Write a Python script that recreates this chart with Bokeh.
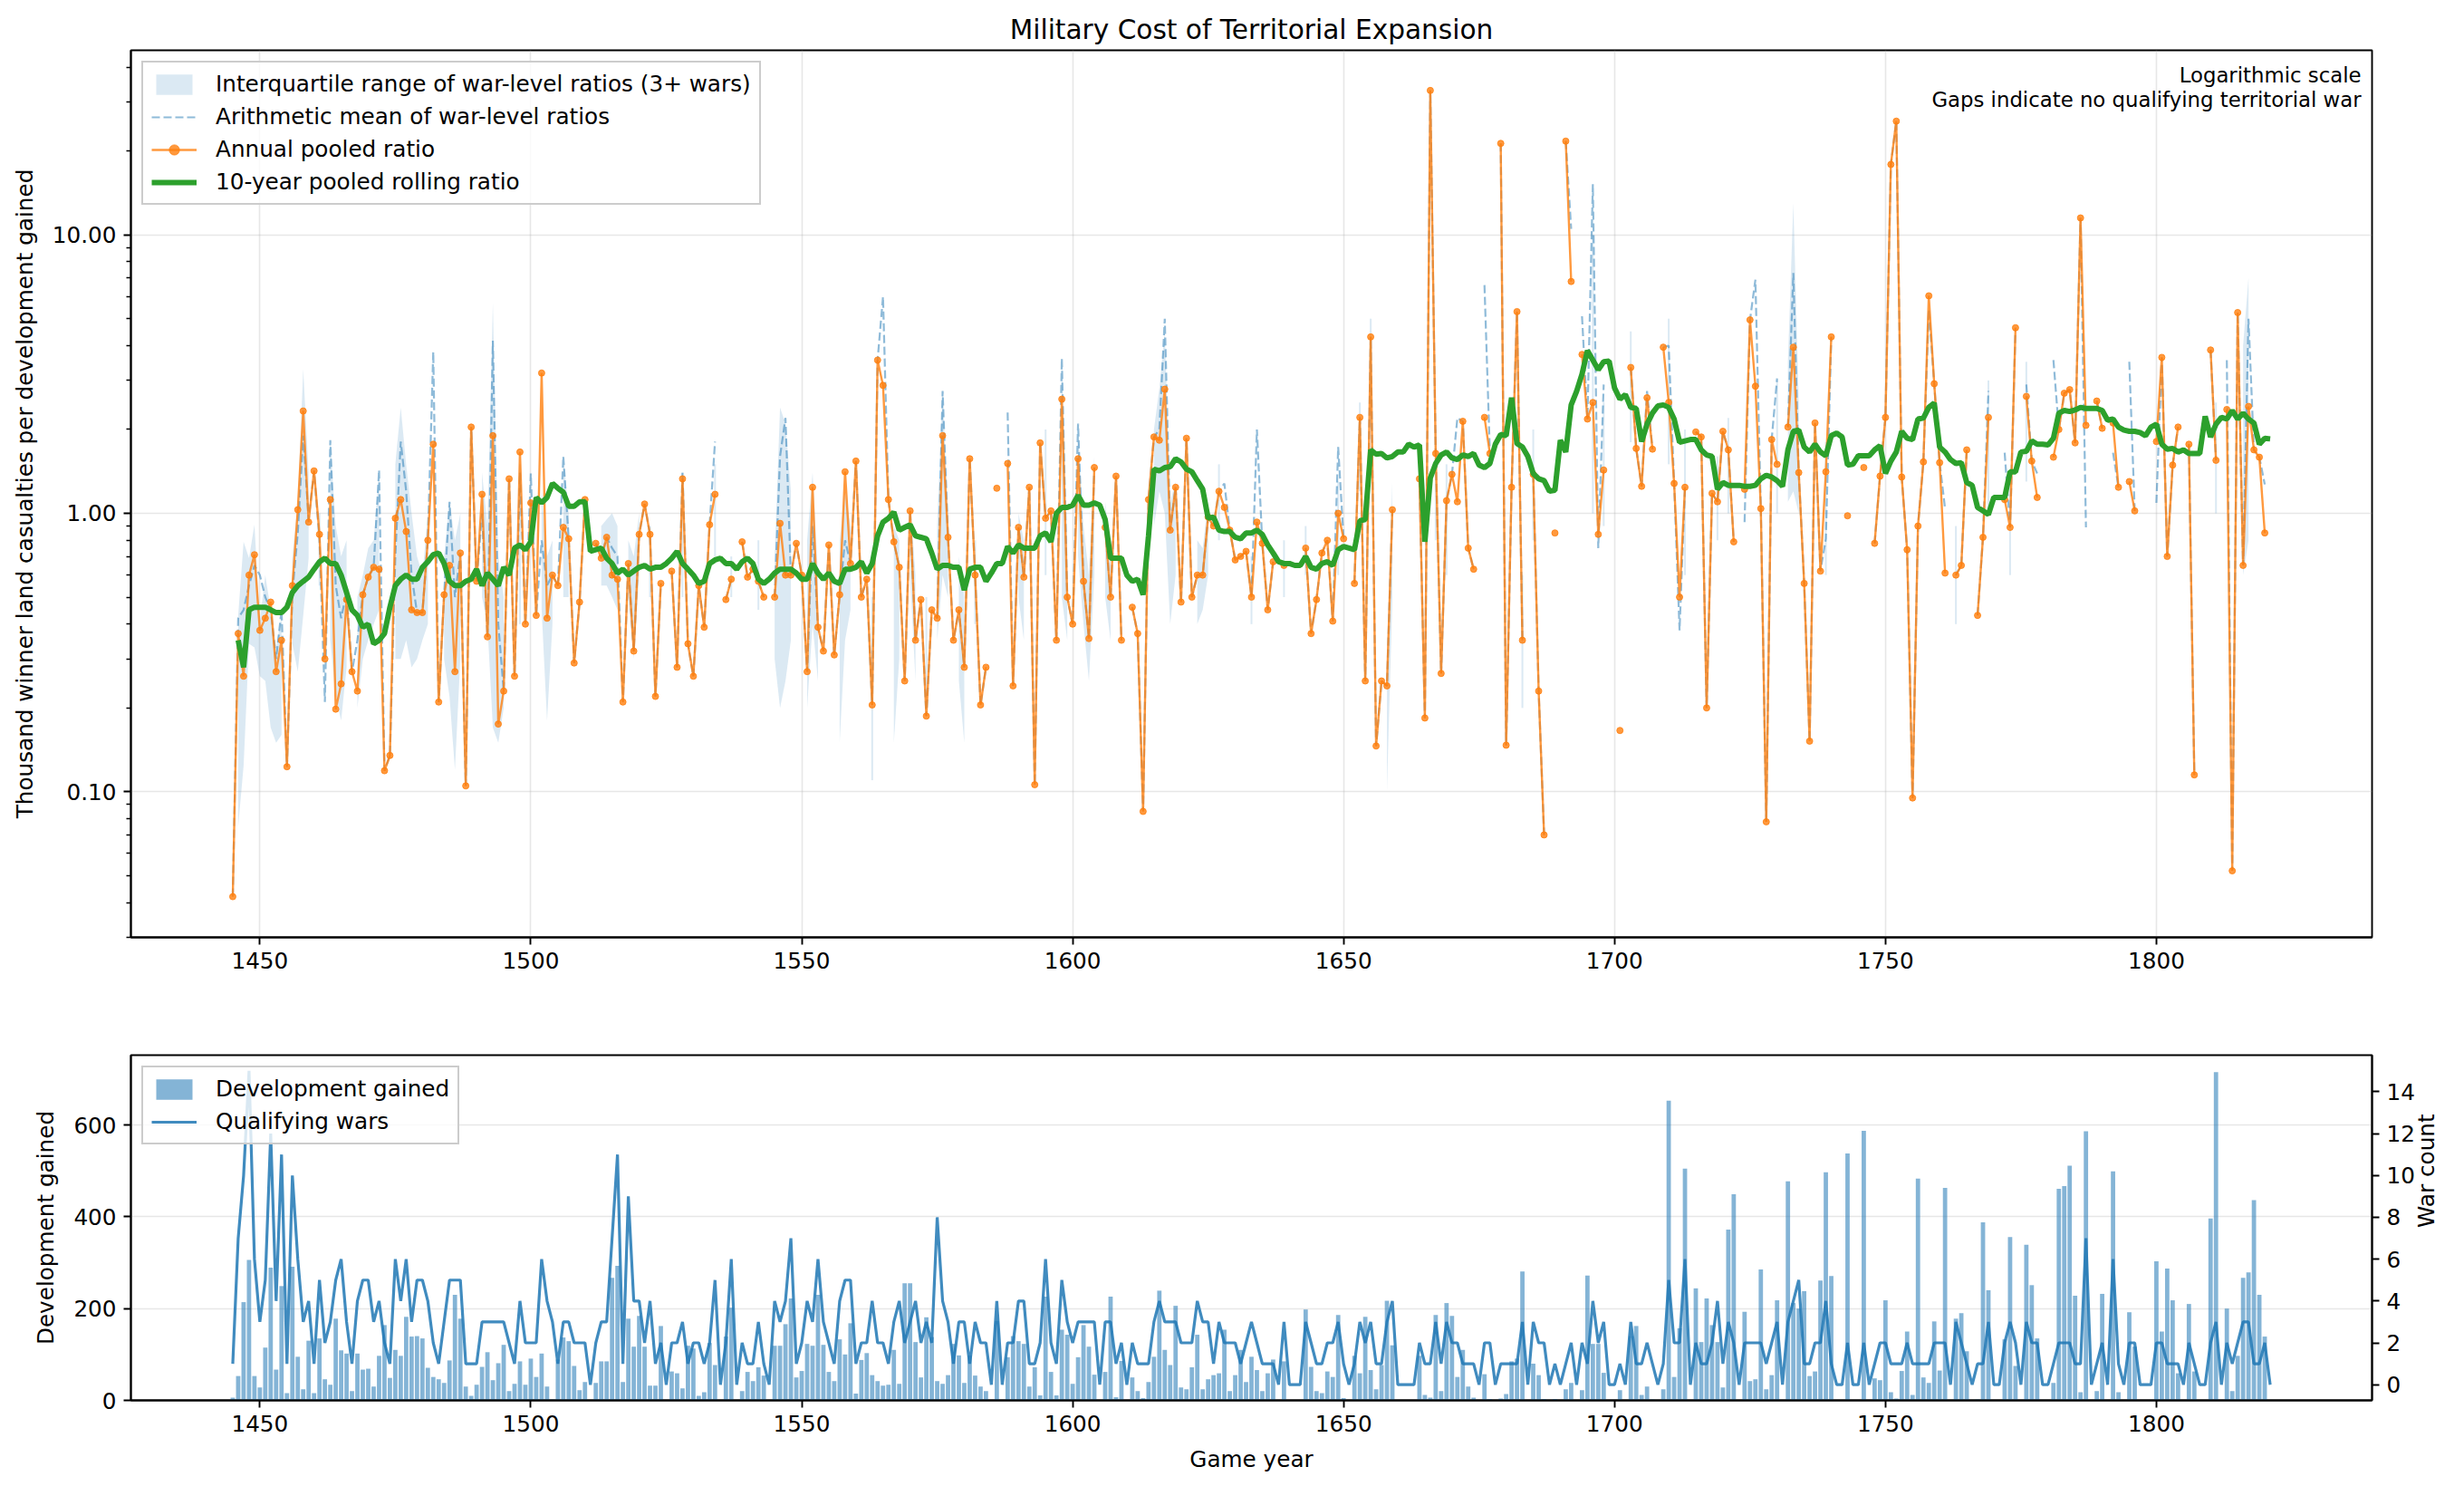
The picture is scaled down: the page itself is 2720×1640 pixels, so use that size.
import math
from bokeh.plotting import figure
from bokeh.models import (Range1d, LinearAxis, FixedTicker, PrintfTickFormatter,
                          Legend, LegendItem, Label)
from bokeh.layouts import column
from bokeh.embed import file_html
from bokeh.resources import INLINE

# ---------------- data ----------------
YEARS = list(range(1445, 1822))

ANNUAL = [
    0.042, 0.37, 0.26, 0.60, 0.71, 0.38, 0.42, 0.48, 0.27, 0.35,      # 1445
    0.123, 0.55, 1.03, 2.33, 0.93, 1.42, 0.84, 0.30, 1.12, 0.198,     # 1455
    0.244, 0.49, 0.27, 0.23, 0.51, 0.59, 0.64, 0.63, 0.119, 0.135,    # 1465
    0.96, 1.12, 0.86, 0.45, 0.44, 0.44, 0.80, 1.77, 0.21, 0.51,       # 1475
    0.65, 0.27, 0.72, 0.105, 2.04, 0.57, 1.17, 0.36, 1.90, 0.175,     # 1485
    0.23, 1.33, 0.26, 1.66, 0.40, 1.09, 0.43, 3.19, 0.42, 0.60,       # 1495
    0.55, 0.89, 0.81, 0.29, 0.48, 1.12, None, 0.78, 0.69, 0.82,       # 1505
    0.60, 0.58, 0.21, 0.66, 0.32, 0.84, 1.08, 0.84, 0.22, 0.56,       # 1515
    None, 0.62, 0.28, 1.33, 0.34, 0.26, 0.55, 0.39, 0.91, 1.17,       # 1525
    None, 0.49, 0.58, None, 0.79, 0.59, 0.63, 0.57, 0.50, None,       # 1535
    0.50, 0.92, 0.60, 0.60, 0.78, 0.60, 0.27, 1.24, 0.39, 0.32,       # 1545
    0.77, 0.31, 0.51, 1.41, 0.66, 1.54, 0.50, 0.58, 0.205, 3.55,      # 1555
    2.88, 1.12, 0.79, 0.64, 0.25, 1.02, 0.35, 0.49, 0.187, 0.45,      # 1565
    0.42, 1.90, 0.82, 0.35, 0.45, 0.28, 1.57, 0.60, 0.205, 0.28,      # 1575
    None, 1.23, None, 1.51, 0.24, 0.89, 0.59, 1.24, 0.106, 1.79,      # 1585
    0.96, 1.02, 0.35, 2.57, 0.50, 0.40, 1.57, 0.57, 0.355, 1.46,      # 1595
    None, 0.89, 0.50, 1.36, 0.35, None, 0.46, 0.37, 0.085, 1.12,      # 1605
    1.88, 1.83, 2.79, 0.87, 1.24, 0.48, 1.86, 0.50, 0.60, 0.60,       # 1615
    0.97, 0.90, 1.20, 1.05, 0.87, 0.68, 0.70, 0.73, 0.50, 0.93,       # 1625
    0.78, 0.45, 0.67, None, 0.65, None, None, None, 0.75, 0.37,       # 1635
    0.49, 0.72, 0.80, 0.41, 1.00, 0.81, None, 0.56, 2.21, 0.25,       # 1645
    4.3, 0.146, 0.25, 0.24, 1.03, None, None, None, None, 1.33,       # 1655
    0.184, 33.0, 1.64, 0.266, 1.11, 1.38, 1.10, 2.14, 0.75, 0.63,     # 1665
    None, 2.21, 1.64, None, 21.3, 0.147, 1.24, 5.3, 0.35, None,       # 1675
    1.38, 0.23, 0.070, None, 0.85, None, 21.7, 6.8, None, 3.72,       # 1685
    2.18, 2.5, 0.84, 1.43, None, None, 0.166, None, 3.34, 1.71,       # 1695
    1.25, 2.6, 1.7, None, 3.95, 2.5, 1.28, 0.50, 1.24, None,          # 1705
    1.96, 1.88, 0.20, 1.18, 1.1, 1.97, 1.69, 0.79, None, 1.22,        # 1715
    4.95, 2.86, 1.04, 0.078, 1.84, 1.5, None, 2.04, 3.95, 1.40,       # 1725
    0.56, 0.152, 2.11, 0.62, 1.41, 4.3, None, None, 0.98, None,       # 1735
    None, 1.46, None, 0.78, 1.36, 2.21, 17.9, 25.6, 1.35, 0.74,       # 1745
    0.095, 0.9, 1.53, 6.04, 2.92, 1.52, 0.61, None, 0.60, 0.65,       # 1755
    1.69, None, 0.43, 0.82, 2.21, None, None, 1.12, 0.89, 4.64,       # 1765
    None, 2.63, 1.54, 1.14, None, None, 1.59, 2.0, 2.70, 2.78,        # 1775
    1.79, 11.5, 2.07, None, 2.53, 2.02, None, 2.11, 1.24, None,       # 1785
    1.3, 1.02, None, None, None, 1.81, 3.63, 0.70, 1.49, 2.04,        # 1795
    None, 1.77, 0.115, None, None, 3.86, 1.55, None, 2.36, 0.052,     # 1805
    5.26, 0.65, 2.42, 1.69, 1.59, 0.85, None,                         # 1815
]

ROLLING = [
    None, 0.35, 0.28, 0.45, 0.46, 0.46, 0.46, 0.45, 0.44, 0.44,      # 1445
    0.46, 0.52, 0.55, 0.57, 0.59, 0.63, 0.67, 0.69, 0.66, 0.66,      # 1455
    0.60, 0.52, 0.45, 0.43, 0.39, 0.40, 0.34, 0.35, 0.37, 0.46,      # 1465
    0.55, 0.58, 0.60, 0.58, 0.58, 0.64, 0.67, 0.71, 0.72, 0.66,      # 1475
    0.57, 0.55, 0.55, 0.57, 0.58, 0.63, 0.55, 0.61, 0.58, 0.55,      # 1485
    0.64, 0.60, 0.75, 0.77, 0.74, 0.79, 1.14, 1.09, 1.14, 1.28,      # 1495
    1.23, 1.19, 1.06, 1.06, 1.10, 1.10, 0.73, 0.74, 0.75, 0.69,      # 1505
    0.66, 0.61, 0.63, 0.60, 0.62, 0.64, 0.65, 0.63, 0.64, 0.64,      # 1515
    0.66, 0.69, 0.73, 0.66, 0.63, 0.60, 0.56, 0.57, 0.66, 0.68,      # 1525
    0.69, 0.66, 0.66, 0.63, 0.67, 0.69, 0.66, 0.58, 0.56, 0.58,      # 1535
    0.61, 0.63, 0.63, 0.63, 0.61, 0.58, 0.58, 0.66, 0.61, 0.58,      # 1545
    0.61, 0.57, 0.56, 0.63, 0.63, 0.64, 0.67, 0.61, 0.66, 0.83,      # 1555
    0.93, 0.96, 1.01, 0.87, 0.89, 0.91, 0.83, 0.82, 0.81, 0.72,      # 1565
    0.63, 0.65, 0.65, 0.64, 0.64, 0.53, 0.63, 0.64, 0.64, 0.57,      # 1575
    0.61, 0.66, 0.66, 0.76, 0.72, 0.77, 0.75, 0.75, 0.75, 0.83,      # 1585
    0.85, 0.79, 1.00, 1.05, 1.05, 1.07, 1.16, 1.07, 1.07, 1.09,      # 1595
    1.07, 0.95, 0.69, 0.69, 0.69, 0.60, 0.57, 0.58, 0.51, 0.83,      # 1605
    1.44, 1.42, 1.46, 1.47, 1.57, 1.53, 1.44, 1.41, 1.31, 1.22,      # 1615
    0.96, 0.97, 0.87, 0.86, 0.86, 0.82, 0.81, 0.85, 0.85, 0.87,      # 1625
    0.84, 0.77, 0.72, 0.67, 0.66, 0.66, 0.65, 0.65, 0.70, 0.64,      # 1635
    0.63, 0.66, 0.67, 0.65, 0.74, 0.76, 0.75, 0.74, 0.94, 0.95,      # 1645
    1.69, 1.63, 1.64, 1.58, 1.60, 1.66, 1.66, 1.77, 1.73, 1.76,      # 1655
    0.79, 1.34, 1.51, 1.62, 1.66, 1.58, 1.56, 1.62, 1.60, 1.64,      # 1665
    1.49, 1.46, 1.51, 1.77, 1.92, 1.90, 2.60, 1.78, 1.73, 1.60,      # 1675
    1.39, 1.33, 1.31, 1.20, 1.21, 1.83, 1.66, 2.45, 2.74, 3.16,      # 1685
    3.84, 3.55, 3.28, 3.50, 3.52, 2.82, 2.57, 2.67, 2.40, 2.38,      # 1695
    1.81, 2.09, 2.29, 2.43, 2.45, 2.40, 2.18, 1.80, 1.82, 1.84,      # 1705
    1.84, 1.69, 1.62, 1.60, 1.22, 1.29, 1.26, 1.26, 1.26, 1.25,      # 1715
    1.25, 1.26, 1.33, 1.37, 1.35, 1.31, 1.25, 1.69, 1.97, 1.99,      # 1725
    1.73, 1.66, 1.77, 1.66, 1.61, 1.90, 1.94, 1.88, 1.49, 1.50,      # 1735
    1.61, 1.61, 1.61, 1.69, 1.75, 1.39, 1.54, 1.66, 1.97, 1.86,      # 1745
    1.84, 2.18, 2.20, 2.40, 2.49, 1.73, 1.66, 1.56, 1.51, 1.52,      # 1755
    1.29, 1.26, 1.05, 1.02, 0.99, 1.14, 1.14, 1.14, 1.41, 1.41,      # 1765
    1.66, 1.67, 1.82, 1.77, 1.77, 1.76, 1.86, 2.29, 2.34, 2.32,      # 1775
    2.35, 2.40, 2.38, 2.38, 2.38, 2.34, 2.16, 2.18, 2.04, 1.99,      # 1785
    1.97, 1.97, 1.95, 1.90, 2.04, 2.09, 1.77, 1.70, 1.71, 1.66,      # 1795
    1.69, 1.64, 1.64, 1.64, 2.23, 1.88, 2.09, 2.21, 2.18, 2.34,      # 1805
    2.18, 2.29, 2.18, 2.11, 1.77, 1.86, 1.85,                        # 1815
]

# arithmetic mean of war-level ratios, where it differs from the pooled ratio
MEAN_DIFF = {
    1446: 0.42, 1447: 0.45, 1448: 0.55, 1449: 0.65, 1450: 0.60, 1451: 0.50,
    1452: 0.45, 1453: 0.30, 1454: 0.45, 1456: 0.52, 1457: 0.85, 1458: 1.9,
    1459: 0.95, 1461: 0.80, 1462: 0.21, 1463: 1.83, 1464: 0.55, 1465: 0.42,
    1466: 0.52, 1468: 0.35, 1472: 1.43, 1475: 0.70, 1476: 1.81, 1477: 1.2,
    1478: 0.60, 1482: 3.8, 1485: 1.1, 1486: 0.50, 1491: 1.0, 1493: 4.17,
    1494: 0.40, 1498: 1.4, 1500: 1.39, 1502: 0.80, 1503: 0.55, 1506: 1.6,
    1515: 0.75, 1516: 0.70, 1528: 1.4, 1534: 1.81, 1546: 1.6, 1547: 2.2,
    1552: 0.90, 1558: 0.80, 1565: 6.0, 1576: 2.75, 1588: 2.3, 1598: 3.6,
    1601: 2.1, 1616: 2.0, 1617: 5.0, 1628: 1.28, 1634: 2.0, 1649: 1.73,
    1671: 2.2, 1676: 6.6, 1692: 10.5, 1694: 5.1, 1696: 15.2, 1697: 0.75,
    1698: 2.9, 1706: 2.75, 1710: 4.0, 1712: 0.38, 1724: 0.93, 1726: 6.9,
    1730: 3.05, 1733: 7.3, 1739: 0.81, 1758: 5.4, 1761: 1.04, 1769: 2.75,
    1772: 1.65, 1776: 2.9, 1778: 1.39, 1781: 3.55, 1787: 0.89, 1792: 1.65,
    1795: 3.5, 1800: 1.09, 1813: 3.55, 1817: 5.0, 1820: 1.27,
}

# interquartile range of war-level ratios (years with 3+ wars): (q25, q75)
IQR = {
    1446: (0.075, 0.43), 1447: (0.124, 0.79), 1448: (0.34, 0.69), 1449: (0.33, 0.91),
    1450: (0.26, 0.41), 1451: (0.25, 0.60), 1452: (0.17, 0.45), 1453: (0.15, 0.33),
    1454: (0.16, 0.43), 1456: (0.34, 0.69), 1457: (0.27, 1.09), 1458: (0.43, 3.3),
    1459: (0.69, 1.38), 1461: (0.55, 1.0), 1463: (0.35, 1.8), 1464: (0.22, 0.9),
    1465: (0.18, 0.7), 1466: (0.28, 0.8), 1468: (0.2, 0.5), 1469: (0.3, 0.6),
    1470: (0.35, 0.75), 1471: (0.4, 0.8), 1472: (0.45, 1.4), 1475: (0.3, 1.5),
    1476: (0.3, 2.4), 1477: (0.35, 1.5), 1478: (0.28, 1.0), 1479: (0.3, 0.7),
    1480: (0.35, 0.6), 1481: (0.4, 1.0), 1484: (0.3, 0.7), 1485: (0.22, 1.1),
    1486: (0.12, 0.8), 1487: (0.3, 1.0), 1491: (0.5, 1.4), 1492: (0.4, 0.9),
    1493: (0.17, 5.7), 1494: (0.15, 0.7), 1495: (0.2, 0.5), 1498: (0.4, 1.5),
    1502: (0.45, 1.2), 1503: (0.18, 0.7), 1504: (0.4, 0.8), 1506: (0.5, 1.6),
    1507: (0.5, 1.0), 1513: (0.55, 0.9), 1514: (0.55, 0.95), 1515: (0.5, 1.0),
    1516: (0.45, 0.9), 1518: (0.5, 0.8), 1519: (0.3, 0.7), 1520: (0.6, 1.0),
    1522: (0.5, 0.9), 1528: (0.5, 1.4), 1534: (0.7, 1.5), 1537: (0.5, 0.7),
    1542: (0.45, 0.8), 1545: (0.3, 0.7), 1546: (0.2, 2.4), 1547: (0.25, 2.1),
    1548: (0.35, 1.2), 1551: (0.2, 0.8), 1552: (0.4, 1.4), 1553: (0.25, 0.6),
    1557: (0.15, 0.8), 1558: (0.35, 1.2), 1559: (0.45, 0.9), 1563: (0.11, 0.5),
    1567: (0.15, 0.9), 1568: (0.3, 0.8), 1570: (0.6, 1.1), 1571: (0.25, 0.6),
    1573: (0.2, 0.5), 1575: (0.35, 0.9), 1576: (0.6, 2.8), 1577: (0.5, 1.0),
    1579: (0.25, 0.7), 1580: (0.15, 0.5), 1582: (0.4, 0.8), 1590: (0.5, 1.0),
    1591: (0.35, 0.8), 1595: (0.6, 2.0), 1598: (0.5, 3.5), 1599: (0.35, 0.8),
    1601: (0.7, 2.0), 1602: (0.4, 0.9), 1603: (0.25, 0.6), 1604: (0.6, 1.6),
    1606: (0.5, 1.1), 1607: (0.35, 0.7), 1615: (0.9, 2.0), 1616: (1.2, 2.8),
    1617: (1.0, 4.5), 1618: (0.4, 1.1), 1619: (0.6, 1.3), 1623: (0.4, 0.8),
    1624: (0.45, 0.75), 1625: (0.6, 1.1), 1627: (0.8, 1.5), 1633: (0.4, 0.7),
    1639: (0.5, 0.8), 1643: (0.6, 0.9), 1649: (0.6, 1.3), 1653: (1.2, 2.5),
    1655: (2.0, 5.0), 1658: (0.1, 0.3), 1659: (0.5, 1.3), 1667: (0.8, 2.0),
    1669: (0.6, 1.5), 1683: (0.2, 0.6), 1685: (0.8, 2.0), 1696: (1.0, 10.0),
    1698: (0.9, 2.5), 1703: (1.8, 4.5), 1710: (1.5, 5.0), 1713: (0.6, 2.0),
    1719: (0.8, 1.6), 1721: (1.0, 2.2), 1730: (1.0, 3.0), 1732: (1.1, 3.5),
    1733: (1.2, 13.0), 1734: (1.0, 2.5), 1739: (0.6, 1.8), 1763: (0.4, 0.9),
    1769: (1.0, 3.0), 1773: (0.6, 1.4), 1776: (1.3, 3.5), 1811: (1.0, 2.5),
    1816: (0.6, 4.0), 1817: (0.8, 7.0),
}

WARS = [
    1, 7, 10, 15, 6, 3, 5, 12, 4, 11,   # 1445
    1, 10, 6, 3, 4, 1, 5, 2, 3, 5,      # 1455
    6, 3, 1, 4, 5, 5, 3, 4, 2, 1,       # 1465
    6, 4, 6, 3, 5, 5, 4, 2, 1, 3,       # 1475
    5, 5, 5, 1, 1, 1, 3, 3, 3, 3,       # 1485
    3, 2, 1, 4, 2, 2, 2, 6, 4, 3,       # 1495
    1, 3, 3, 2, 2, 2, 0, 2, 3, 3,       # 1505
    7, 11, 1, 9, 4, 4, 2, 4, 1, 2,      # 1515
    0, 2, 2, 3, 1, 2, 2, 1, 2, 5,       # 1525
    0, 2, 6, 0, 2, 1, 1, 3, 1, 0,       # 1535
    4, 3, 4, 7, 1, 2, 4, 3, 6, 3,       # 1545
    2, 1, 4, 5, 5, 1, 2, 2, 4, 2,       # 1555
    2, 1, 3, 4, 2, 3, 4, 2, 3, 2,       # 1565
    8, 4, 3, 1, 3, 3, 1, 3, 2, 2,       # 1575
    0, 4, 0, 2, 2, 4, 4, 1, 1, 2,       # 1585
    6, 2, 1, 5, 3, 2, 3, 3, 3, 3,       # 1595
    0, 3, 3, 1, 2, 0, 2, 1, 1, 1,       # 1605
    3, 4, 3, 3, 3, 2, 2, 2, 4, 3,       # 1615
    3, 1, 3, 2, 2, 2, 1, 2, 3, 2,       # 1625
    1, 1, 1, 0, 3, 0, 0, 0, 3, 2,       # 1635
    1, 1, 2, 2, 3, 1, 0, 1, 3, 2,       # 1645
    3, 1, 1, 3, 4, 0, 0, 0, 0, 2,       # 1655
    1, 1, 3, 1, 3, 2, 2, 1, 1, 1,       # 1665
    0, 2, 2, 0, 1, 1, 1, 1, 3, 0,       # 1675
    3, 2, 2, 0, 1, 0, 1, 2, 0, 2,       # 1685
    1, 4, 2, 3, 0, 0, 1, 0, 3, 1,       # 1695
    1, 2, 1, 0, 1, 5, 2, 2, 6, 0,       # 1705
    2, 1, 1, 2, 4, 1, 3, 2, 0, 2,       # 1715
    2, 2, 2, 1, 2, 3, 0, 3, 4, 5,       # 1725
    1, 1, 2, 2, 4, 1, 0, 0, 2, 0,       # 1735
    0, 2, 0, 1, 2, 2, 1, 1, 1, 2,       # 1745
    1, 1, 1, 1, 2, 2, 2, 0, 3, 2,       # 1755
    1, 0, 1, 1, 3, 0, 0, 2, 3, 2,       # 1765
    0, 3, 2, 2, 0, 0, 1, 2, 2, 2,       # 1775
    1, 1, 7, 0, 1, 2, 0, 6, 1, 0,       # 1785
    2, 2, 0, 0, 0, 2, 2, 1, 1, 1,       # 1795
    0, 2, 1, 0, 0, 2, 3, 0, 2, 1,       # 1805
    2, 3, 3, 1, 1, 2, 0,                # 1815
]

DEV = [
    6, 53, 214, 306, 53, 28, 115, 289, 67, 249,        # 1445
    16, 291, 95, 24, 130, 16, 135, 46, 34, 178,        # 1455
    109, 102, 20, 102, 67, 69, 30, 97, 164, 49,        # 1465
    110, 97, 182, 139, 140, 135, 71, 51, 46, 38,       # 1475
    87, 230, 178, 30, 10, 34, 73, 105, 44, 81,         # 1485
    121, 20, 36, 85, 34, 91, 51, 102, 30, 2,           # 1495
    89, 137, 129, 75, 22, 40, 0, 38, 85, 85,           # 1505
    267, 293, 40, 178, 117, 184, 117, 32, 32, 162,     # 1515
    0, 63, 59, 26, 119, 113, 10, 18, 125, 77,          # 1525
    0, 139, 202, 0, 20, 62, 42, 72, 54, 0,             # 1535
    119, 119, 166, 222, 50, 64, 123, 119, 230, 121,    # 1545
    62, 42, 133, 100, 168, 15, 88, 103, 55, 42,        # 1555
    32, 34, 110, 36, 255, 255, 127, 50, 181, 138,      # 1565
    42, 36, 55, 123, 98, 38, 98, 54, 30, 20,           # 1575
    0, 173, 0, 94, 140, 129, 123, 30, 72, 11,          # 1585
    226, 62, 11, 154, 143, 36, 94, 164, 117, 56,       # 1595
    0, 62, 226, 7, 86, 0, 50, 20, 5, 40,               # 1605
    95, 239, 110, 77, 206, 28, 24, 72, 143, 24,        # 1615
    46, 55, 59, 154, 20, 55, 110, 40, 95, 66,          # 1625
    20, 59, 89, 0, 85, 0, 0, 0, 198, 73,               # 1635
    20, 16, 63, 51, 186, 5, 0, 97, 59, 182,            # 1645
    66, 24, 77, 217, 120, 0, 0, 0, 0, 97,              # 1655
    12, 6, 186, 20, 212, 184, 51, 110, 30, 6,          # 1665
    0, 57, 3, 0, 4, 14, 85, 91, 281, 0,                # 1675
    80, 55, 3, 0, 3, 0, 24, 38, 0, 22,                 # 1685
    272, 123, 123, 60, 0, 0, 22, 0, 140, 162,          # 1695
    12, 30, 2, 0, 24, 653, 51, 157, 505, 0,            # 1705
    244, 127, 222, 164, 127, 28, 372, 449, 0, 193,     # 1715
    42, 46, 285, 24, 55, 218, 0, 477, 212, 200,        # 1725
    238, 53, 63, 261, 497, 271, 0, 0, 538, 0,          # 1735
    0, 587, 0, 48, 44, 218, 18, 4, 64, 150,            # 1745
    12, 483, 50, 38, 172, 65, 463, 0, 178, 190,        # 1755
    107, 0, 2, 388, 240, 0, 0, 133, 356, 75,           # 1765
    0, 339, 251, 135, 0, 0, 38, 461, 467, 511,         # 1775
    228, 18, 586, 0, 20, 232, 0, 499, 18, 0,           # 1785
    192, 117, 0, 0, 0, 303, 150, 287, 218, 59,         # 1795
    0, 210, 63, 0, 0, 396, 715, 0, 200, 20,            # 1805
    97, 267, 279, 436, 230, 139, 0,                    # 1815
]

TITLE = "Military Cost of Territorial Expansion"
NOTE_LINES = ["Logarithmic scale", "Gaps indicate no qualifying territorial war"]
X_TICKS = [1450, 1500, 1550, 1600, 1650, 1700, 1750, 1800]
Y_TICKS_TOP = [0.1, 1.0, 10.0]
Y_TICKS_DEV = [0, 200, 400, 600]
Y_TICKS_WARS = [0, 2, 4, 6, 8, 10, 12, 14]

# ---------------- styling ----------------
FONT = "DejaVu Sans"
BLUE = "#1f77b4"
ORANGE = "#ff7f0e"
GREEN = "#2ca02c"
FS = "24.7px"

NAN = float("nan")
annual = [NAN if v is None else v for v in ANNUAL]
rolling = [NAN if v is None else v for v in ROLLING]
mean = [NAN if a is None else MEAN_DIFF.get(y, a) for y, a in zip(YEARS, ANNUAL)]

X0, X1 = 1426.2, 1839.8
Y0, Y1 = 0.030, 46.0
W = 2720
H_TOP, H_BOT = 1100, 540
FRAME_W = 2474
FRAME_H_TOP = 979


def style_axis(ax, minor=False):
    ax.axis_line_color = "black"
    ax.axis_line_width = 1.9
    ax.major_tick_line_color = "black"
    ax.major_tick_line_width = 1.9
    ax.major_tick_out = 8
    ax.major_tick_in = 0
    if minor:
        ax.minor_tick_line_color = "black"
        ax.minor_tick_line_width = 1.4
        ax.minor_tick_out = 5
        ax.minor_tick_in = 0
    else:
        ax.minor_tick_line_color = None
    ax.major_label_text_font = FONT
    ax.major_label_text_font_size = FS
    ax.major_label_text_color = "black"
    ax.major_label_standoff = 8
    ax.axis_label_text_font = FONT
    ax.axis_label_text_font_size = FS
    ax.axis_label_text_font_style = "normal"
    ax.axis_label_text_color = "black"
    ax.axis_label_standoff = 13


def style_legend(lg):
    lg.label_text_font = FONT
    lg.label_text_font_size = FS
    lg.label_text_color = "black"
    lg.glyph_width = 50
    lg.glyph_height = 28
    lg.label_standoff = 21
    lg.label_height = 28
    lg.spacing = 7
    lg.padding = 9
    lg.margin = 12
    lg.border_line_color = "#cccccc"
    lg.border_line_width = 2
    lg.border_line_alpha = 1.0
    lg.background_fill_color = "white"
    lg.background_fill_alpha = 0.8


# ---------------- top panel ----------------
p1 = figure(width=W, height=H_TOP, x_range=Range1d(X0, X1), y_range=Range1d(Y0, Y1),
            y_axis_type="log", output_backend="svg", toolbar_location=None,
            min_border_left=144, min_border_right=102, min_border_top=55, min_border_bottom=66,
            title=TITLE)
p1.title.align = "center"
p1.title.text_font = FONT
p1.title.text_font_size = "29.6px"
p1.title.text_font_style = "normal"
p1.title.text_color = "black"
p1.title.standoff = 12
p1.outline_line_color = "black"
p1.outline_line_width = 1.9
p1.outline_line_alpha = 1.0
p1.background_fill_color = "white"

p1.xaxis.ticker = FixedTicker(ticks=X_TICKS)
minor = [k * 0.01 for k in range(3, 10)] + [k * 0.1 for k in range(2, 10)] + \
        [float(k) for k in range(2, 10)] + [20.0, 30.0, 40.0]
p1.yaxis.ticker = FixedTicker(ticks=Y_TICKS_TOP, minor_ticks=minor)
p1.yaxis.formatter = PrintfTickFormatter(format="%.2f")
p1.yaxis.axis_label = "Thousand winner land casualties per development gained"
style_axis(p1.xaxis[0])
style_axis(p1.yaxis[0], minor=True)
for g in (p1.xgrid[0], p1.ygrid[0]):
    g.grid_line_color = "#b0b0b0"
    g.grid_line_alpha = 0.3
    g.grid_line_width = 1.6
    g.minor_grid_line_color = None

# IQR band, drawn as contiguous runs of years
runs = []
for y in sorted(IQR):
    if runs and y == runs[-1][-1] + 1:
        runs[-1].append(y)
    else:
        runs.append([y])
iqr_renderers = []
for r in runs:
    if len(r) > 1:
        rr = p1.varea(x=r, y1=[IQR[y][0] for y in r], y2=[IQR[y][1] for y in r],
                      fill_color=BLUE, fill_alpha=0.16)
    else:
        y = r[0]
        rr = p1.segment(x0=[y], y0=[IQR[y][0]], x1=[y], y1=[IQR[y][1]],
                        line_color=BLUE, line_alpha=0.16, line_width=2)
    iqr_renderers.append(rr)

r_mean = p1.line(YEARS, mean, line_color=BLUE, line_alpha=0.5, line_width=2.2, line_dash="9 4")
r_ann = p1.line(YEARS, annual, line_color=ORANGE, line_alpha=0.8, line_width=2.4)
r_ann_pts = p1.scatter(YEARS, annual, size=7, marker="circle", fill_color=ORANGE,
                       line_color=ORANGE, fill_alpha=0.8, line_alpha=0.8)
r_roll = p1.line(YEARS, rolling, line_color=GREEN, line_width=6)

lg1 = Legend(items=[
    LegendItem(label="Interquartile range of war-level ratios (3+ wars)", renderers=[iqr_renderers[0]]),
    LegendItem(label="Arithmetic mean of war-level ratios", renderers=[r_mean]),
    LegendItem(label="Annual pooled ratio", renderers=[r_ann, r_ann_pts]),
    LegendItem(label="10-year pooled rolling ratio", renderers=[r_roll]),
], location="top_left")
style_legend(lg1)
p1.add_layout(lg1)

# note in the upper right corner (positioned from the frame edges)
span_log = math.log10(Y1) - math.log10(Y0)
x_note = X1 - 12 * (X1 - X0) / FRAME_W
for i, txt in enumerate(NOTE_LINES):
    px_from_top = 14 + i * 27
    y_note = 10 ** (math.log10(Y1) - px_from_top / FRAME_H_TOP * span_log)
    p1.add_layout(Label(x=x_note, y=y_note, text=txt, text_align="right", text_baseline="top",
                        text_font=FONT, text_font_size="22.8px", text_color="black"))

# ---------------- bottom panel ----------------
p2 = figure(width=W, height=H_BOT, x_range=p1.x_range, y_range=Range1d(0, 752),
            output_backend="svg", toolbar_location=None,
            min_border_left=144, min_border_right=102, min_border_top=64, min_border_bottom=95)
p2.outline_line_color = "black"
p2.outline_line_width = 1.9
p2.outline_line_alpha = 1.0
p2.extra_y_ranges = {"wars": Range1d(-0.75, 15.75)}

p2.xaxis.ticker = FixedTicker(ticks=X_TICKS)
p2.xaxis.axis_label = "Game year"
p2.yaxis.ticker = FixedTicker(ticks=Y_TICKS_DEV)
p2.yaxis.axis_label = "Development gained"
style_axis(p2.xaxis[0])
style_axis(p2.yaxis[0])
ax_r = LinearAxis(y_range_name="wars", axis_label="War count", ticker=FixedTicker(ticks=Y_TICKS_WARS))
style_axis(ax_r)
ax_r.axis_label_standoff = 10
try:
    ax_r.axis_label_orientation = math.pi / 2
except Exception:
    pass
p2.add_layout(ax_r, "right")
p2.xgrid.visible = False
p2.ygrid.grid_line_color = "#b0b0b0"
p2.ygrid.grid_line_alpha = 0.3
p2.ygrid.grid_line_width = 1.6

r_bar = p2.vbar(x=YEARS, top=DEV, width=0.8, fill_color=BLUE, fill_alpha=0.55,
                line_color=None)
r_wars = p2.line(YEARS, WARS, y_range_name="wars", line_color=BLUE, line_alpha=0.85,
                 line_width=3.2)

lg2 = Legend(items=[
    LegendItem(label="Development gained", renderers=[r_bar]),
    LegendItem(label="Qualifying wars", renderers=[r_wars]),
], location="top_left")
style_legend(lg2)
p2.add_layout(lg2)

layout = column(p1, p2)
open("out.html", "w").write(file_html(layout, INLINE))
